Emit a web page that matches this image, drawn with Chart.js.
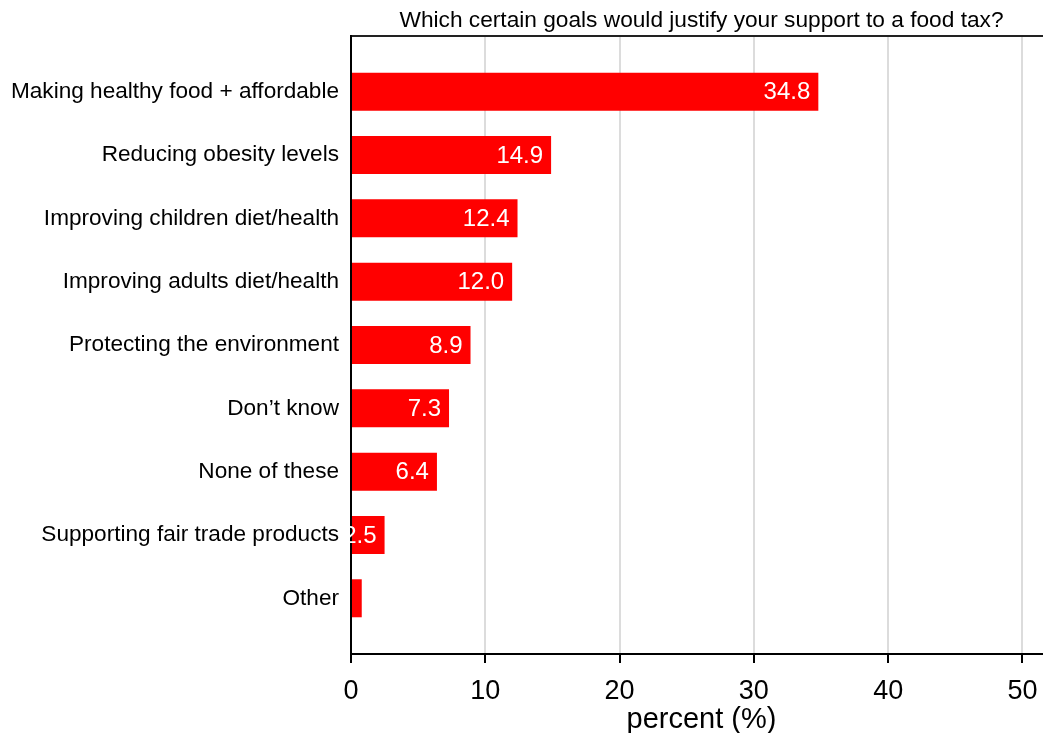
<!DOCTYPE html>
<html>
<head>
<meta charset="utf-8">
<script src="https://cdn.jsdelivr.net/npm/chart.js@4/dist/chart.umd.min.js"></script>
<style>
html,body{margin:0;padding:0;background:#fff;overflow:hidden;width:1043px;height:733px;}
canvas{display:block;}
</style>
</head>
<body>
<canvas id="c" width="1080" height="733"></canvas>
<script>
const categories = [
  "Making healthy food + affordable",
  "Reducing obesity levels",
  "Improving children diet/health",
  "Improving adults diet/health",
  "Protecting the environment",
  "Don\u2019t know",
  "None of these",
  "Supporting fair trade products",
  "Other"
];
const percentValues = [34.8, 14.9, 12.4, 12.0, 8.9, 7.3, 6.4, 2.5, 0.8];
const xTickValues = [0, 10, 20, 30, 40, 50];
const chartTitle = "Which certain goals would justify your support to a food tax?";
const xAxisTitle = "percent (%)";

const FONT = "'Liberation Sans', Arial, sans-serif";
const X_MIN = 0, X_MAX = 52.2;

const barLabels = {
  id: 'barLabels',
  afterDatasetsDraw(chart) {
    const ctx = chart.ctx;
    const meta = chart.getDatasetMeta(0);
    ctx.save();
    ctx.font = "24px " + FONT;
    ctx.fillStyle = "#ffffff";
    ctx.textAlign = "right";
    ctx.textBaseline = "middle";
    meta.data.forEach((bar, i) => {
      const v = percentValues[i];
      if (v < 1) return;
      ctx.fillText(v.toFixed(1), bar.x - 8, bar.y + 1);
    });
    ctx.restore();
  }
};

new Chart(document.getElementById('c'), {
  type: 'bar',
  data: {
    datasets: [{
      data: percentValues.map((v, i) => ({x: v, y: i})),
      backgroundColor: '#ff0000',
      borderWidth: 0,
      barPercentage: 0.6,
      categoryPercentage: 1.0
    }]
  },
  options: {
    indexAxis: 'y',
    responsive: false,
    animation: false,
    layout: {padding: {left: 0, right: 28, top: 0, bottom: 0}},
    plugins: {legend: {display: false}, tooltip: {enabled: false}, title: {display: false}},
    scales: {
      x: {
        type: 'linear', position: 'bottom', min: X_MIN, max: X_MAX, offset: false,
        afterBuildTicks: (s) => { s.ticks = xTickValues.map(v => ({value: v})); },
        afterFit: (s) => { s.height = 79; },
        grid: {color: '#dcdcdc', lineWidth: 2, drawTicks: true, tickLength: 9, tickColor: '#000', tickWidth: 2},
        border: {display: true, color: '#000', width: 2},
        ticks: {font: {size: 27, family: FONT}, color: '#000', padding: 12, maxRotation: 0},
        title: {display: true, text: xAxisTitle, font: {size: 29, family: FONT}, color: '#000', padding: {top: -8, bottom: -4}}
      },
      x2: {
        type: 'linear', position: 'top', min: X_MIN, max: X_MAX, offset: false,
        afterFit: (s) => { s.height = 36; },
        grid: {display: false},
        border: {display: true, color: '#222', width: 2},
        ticks: {display: false},
        title: {display: true, text: chartTitle, font: {size: 22.7, family: FONT}, color: '#000', padding: {top: 7, bottom: 0}}
      },
      y: {
        type: 'linear', reverse: true, min: -0.88, max: 8.88, offset: false,
        afterBuildTicks: (s) => { s.ticks = categories.map((c, i) => ({value: i})); },
        afterFit: (s) => { s.width = 351; },
        grid: {display: false, drawTicks: false},
        border: {display: true, color: '#000', width: 2},
        ticks: {
          font: {size: 22.6, family: FONT}, color: '#000', padding: 12,
          callback: (v) => categories[v]
        }
      }
    }
  },
  plugins: [barLabels]
});
</script>
</body>
</html>
